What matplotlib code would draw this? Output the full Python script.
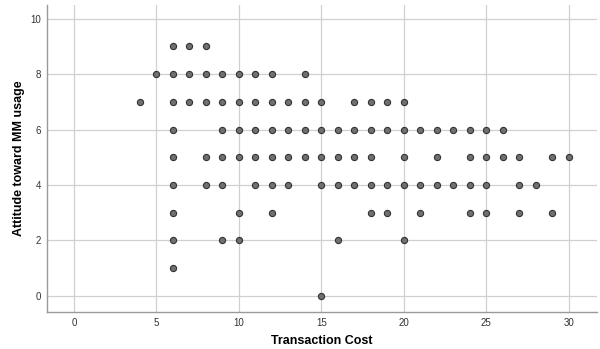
import matplotlib
matplotlib.use("Agg")
import matplotlib.pyplot as plt

plt.rcParams['font.family'] = ['Liberation Sans', 'DejaVu Sans']

# transaction cost values observed at each attitude score
rows = {
    9: [6, 7, 8],
    8: [5, 6, 7, 8, 9, 10, 11, 12, 14],
    7: [4, 6, 7, 8, 9, 10, 11, 12, 13, 14, 15, 17, 18, 19, 20],
    6: [6, 9, 10, 11, 12, 13, 14, 15, 16, 17, 18, 19, 20, 21, 22, 23, 24, 25, 26],
    5: [6, 8, 9, 10, 11, 12, 13, 14, 15, 16, 17, 18, 20, 22, 24, 25, 26, 27, 29, 30],
    4: [6, 8, 9, 11, 12, 13, 15, 16, 17, 18, 19, 20, 21, 22, 23, 24, 25, 27, 28],
    3: [6, 10, 12, 18, 19, 21, 24, 25, 27, 29],
    2: [6, 9, 10, 16, 20],
    1: [6],
    0: [15],
}

cost = []
attitude = []
for att, costs in rows.items():
    for c in costs:
        cost.append(c)
        attitude.append(att)

x_ticks = [0, 5, 10, 15, 20, 25, 30]
y_ticks = [0, 2, 4, 6, 8, 10]

fig = plt.figure(figsize=(6.0, 3.49), dpi=100)
ax = fig.add_axes([0.078, 0.106, 0.917, 0.88])

ax.scatter(cost, attitude, s=20, c='#707070', edgecolors='#333333',
           linewidths=0.8, zorder=3)

ax.set_xlim(-1.64, 31.7)
ax.set_ylim(-0.58, 10.5)
ax.set_xticks(x_ticks)
ax.set_yticks(y_ticks)
ax.grid(True, color='#d0d0d0', linewidth=0.9)
ax.set_axisbelow(True)

for side in ['top', 'right']:
    ax.spines[side].set_visible(False)
for side in ['left', 'bottom']:
    ax.spines[side].set_color('#9a9a9a')
    ax.spines[side].set_linewidth(1.0)

ax.tick_params(axis='both', labelsize=7, labelcolor='#333333', length=0, pad=4)

ax.set_xlabel('Transaction Cost', fontsize=9, fontweight='bold', labelpad=5)
ax.set_ylabel('Attitude toward MM usage', fontsize=9, fontweight='bold', labelpad=4)

fig.savefig('out.png', dpi=100)
